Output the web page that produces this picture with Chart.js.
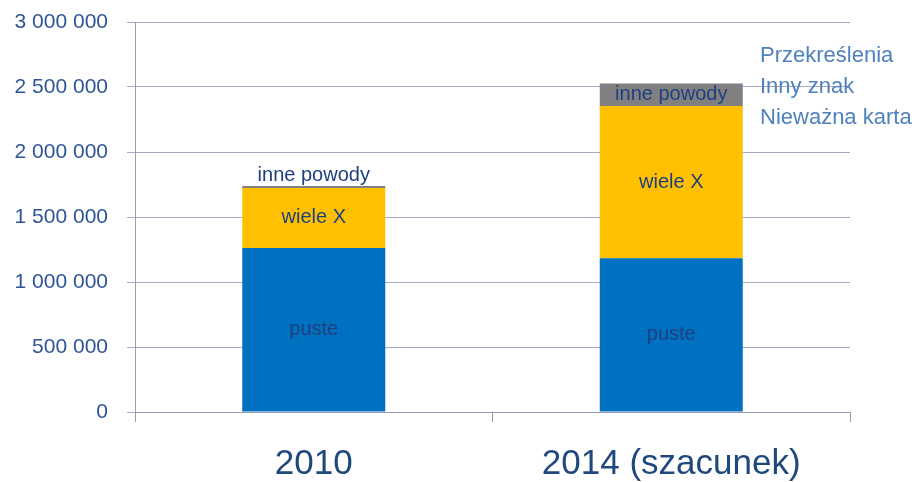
<!DOCTYPE html>
<html>
<head>
<meta charset="utf-8">
<script src="https://cdn.jsdelivr.net/npm/chart.js@4/dist/chart.umd.min.js"></script>
<style>
html,body{margin:0;padding:0;background:#fff;}
#wrap{width:919px;height:482px;position:relative;}
</style>
</head>
<body>
<div id="wrap"><canvas id="c" width="919" height="482"></canvas></div>
<script>
const categories = ["2010", "2014 (szacunek)"];
const seriesNames = ["puste", "wiele X", "inne powody"];
const pusteValues = [1262000, 1182000];
const wieleXValues = [461000, 1172000];
const innePowodyValues = [15000, 173000];
const yTickMax = 3000000;
const yTickStep = 500000;
const sideNotes = ["Przekreślenia", "Inny znak", "Nieważna karta"];

const FONT = "'Liberation Sans', 'DejaVu Sans', sans-serif";

function fmt(v){
  return String(v).replace(/\B(?=(\d{3})+(?!\d))/g, " ");
}

const labelPlugin = {
  id: 'labels',
  afterDatasetsDraw(chart){
    const ctx = chart.ctx;
    ctx.save();
    ctx.font = "20px " + FONT;
    ctx.fillStyle = "#1F3F7F";
    ctx.textAlign = "center";
    ctx.textBaseline = "middle";
    chart.data.datasets.forEach((ds, di) => {
      const meta = chart.getDatasetMeta(di);
      meta.data.forEach((bar, i) => {
        const top = Math.min(bar.y, bar.base);
        const h = Math.abs(bar.base - bar.y);
        let y = top + h / 2;
        if (h < 16) y = top - 11;
        ctx.fillText(ds.label, bar.x, y);
      });
    });
    ctx.font = "22px " + FONT;
    ctx.fillStyle = "#4F81BD";
    ctx.textAlign = "left";
    const ys = chart.scales.y;
    const base = ys.getPixelForValue(yTickMax - yTickStep);
    sideNotes.forEach((t, k) => {
      ctx.fillText(t, 760, base - 31 + k * 31);
    });
    ctx.restore();
  }
};

new Chart(document.getElementById('c'), {
  type: 'bar',
  data: {
    labels: categories,
    datasets: [
      {label: seriesNames[0], data: pusteValues, backgroundColor: '#0070C0'},
      {label: seriesNames[1], data: wieleXValues, backgroundColor: '#FFC000'},
      {label: seriesNames[2], data: innePowodyValues, backgroundColor: '#808080'}
    ]
  },
  options: {
    responsive: false,
    animation: false,
    layout: {padding: {top: 22, right: 69, left: 0, bottom: 0}},
    plugins: {legend: {display: false}, tooltip: {enabled: false}},
    datasets: {bar: {barPercentage: 0.4, categoryPercentage: 1.0}},
    scales: {
      x: {
        stacked: true,
        afterFit(s){ s.height = 70; s.paddingLeft = 0; s.paddingRight = 0; },
        grid: {drawOnChartArea: false, drawTicks: true, tickLength: 10, color: '#9A9AB8', offset: true},
        border: {color: '#9A9AB8', width: 1},
        ticks: {font: {family: FONT, size: 35}, color: '#1F497D', padding: 21}
      },
      y: {
        stacked: true,
        min: 0, max: yTickMax,
        afterFit(s){ s.width = 135; s.paddingTop = 0; s.paddingBottom = 0; },
        grid: {color: '#A8A8C8', tickLength: 8, drawTicks: true},
        border: {color: '#9A9AB8', width: 1},
        ticks: {stepSize: yTickStep, font: {family: FONT, size: 21}, color: '#2F5597', padding: 19,
          callback: v => fmt(v)}
      }
    }
  },
  plugins: [labelPlugin]
});
</script>
</body>
</html>
